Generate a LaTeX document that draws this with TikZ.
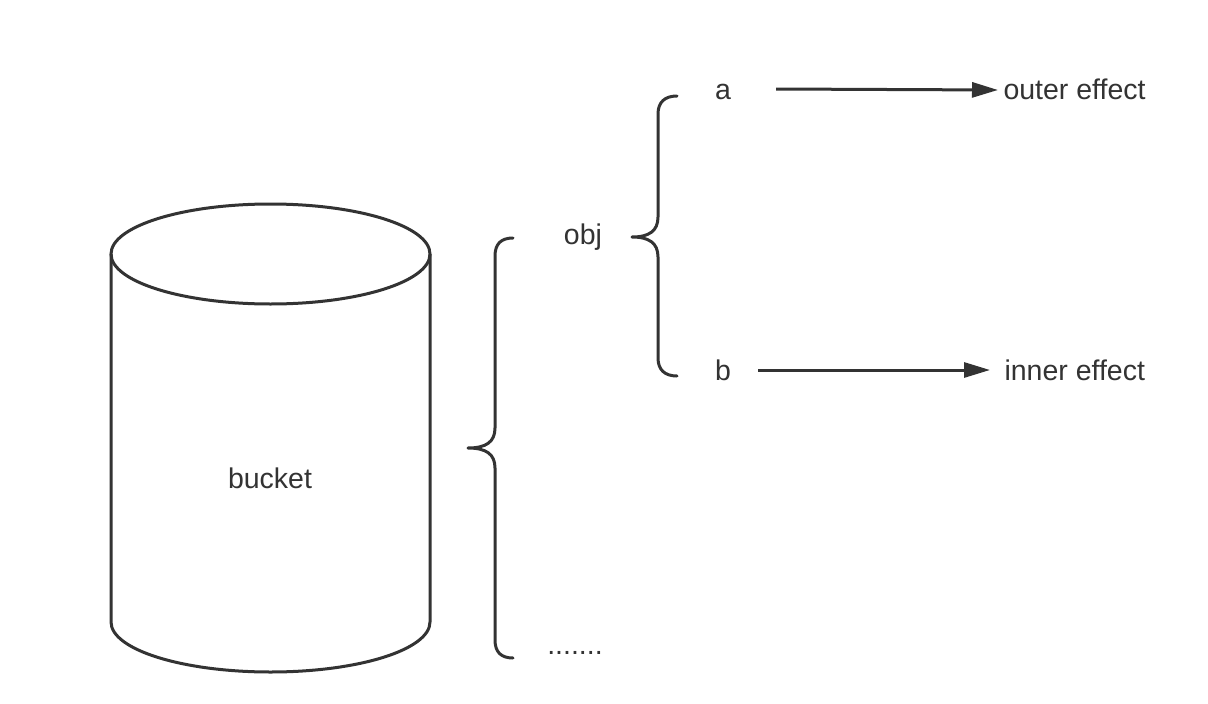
\documentclass[tikz,border=0pt]{standalone}
\usepackage{fontspec}
\setmainfont{Liberation Sans}
\usetikzlibrary{arrows.meta}
\definecolor{ink}{HTML}{333333}
\begin{document}
\begin{tikzpicture}[x=1pt,y=-1pt,
  line width=3pt, draw=ink,
  lbl/.style={text=ink, font=\fontsize{28.5}{33}\selectfont, inner sep=0pt, anchor=base},
  brace/.style={draw=ink, line width=3pt, line cap=round, line join=round},
  arr/.style={draw=ink, line width=3pt, -{Triangle[length=26pt,width=15pt]}}]
\fill[white] (0,0) rectangle (1208,704);
\useasboundingbox (0,0) rectangle (1208,704);
% cylinder
\draw[ink, line width=3pt] (270.5,254) ellipse [x radius=159.5pt, y radius=50pt];
\draw[ink, line width=3pt, line join=round] (111,254) -- (111,622) arc[start angle=180, end angle=360, x radius=159.5pt, y radius=50pt] -- (430,254);
\node[lbl, anchor=base] (bucket) at (270,488) {bucket};
% big brace
\draw[brace] (513,238) .. controls (501,238) and (495,244) .. (495,256) -- (495,428)
  .. controls (495,442) and (486,448) .. (468,448)
  .. controls (486,448) and (495,454) .. (495,468) -- (495,640)
  .. controls (495,652) and (501,658) .. (513,658);
% small brace
\draw[brace] (677,96) .. controls (665,96) and (658,102) .. (658,114) -- (658,217)
  .. controls (658,231) and (649,237) .. (632,237)
  .. controls (649,237) and (658,243) .. (658,257) -- (658,358)
  .. controls (658,370) and (665,376) .. (677,376);
\node[lbl] (obj) at (583,244) {obj};
\node[lbl] (dots) at (575,654) {.......};
\node[lbl] (a) at (723,99) {a};
\node[lbl] (b) at (723,380) {b};
\node[lbl, anchor=base west] (outer) at (1002,99) {outer effect};
\node[lbl, anchor=base west] (inner) at (1003,380) {inner effect};
\coordinate (astart) at (776,89);
\coordinate (aend) at (998,90);
\coordinate (bstart) at (758,370);
\coordinate (bend) at (990,370);
\draw[arr] (astart) -- (aend);
\draw[arr] (bstart) -- (bend);
\end{tikzpicture}
\end{document}
